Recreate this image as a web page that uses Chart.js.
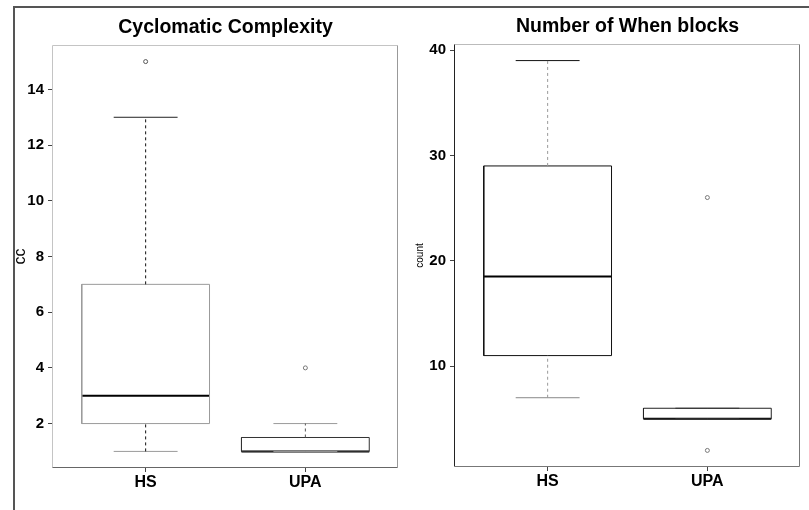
<!DOCTYPE html>
<html><head><meta charset="utf-8">
<script src="https://cdn.jsdelivr.net/npm/chart.js@4.4.1/dist/chart.umd.min.js"></script>
<style>
html,body{margin:0;padding:0;background:#fff;}
#wrap{position:relative;width:809px;height:510px;overflow:hidden;background:#fff;}
canvas{position:absolute;top:0;}
#c1{left:0;}
#c2{left:404px;}
#frame{position:absolute;left:13px;top:6px;width:796px;height:504px;border-left:2px solid #555;border-top:2px solid #555;z-index:5;pointer-events:none;}
</style></head><body>
<div id="wrap">
<canvas id="c1" width="404" height="510" style="width:404px;height:510px"></canvas>
<canvas id="c2" width="405" height="510" style="width:405px;height:510px"></canvas>
<div id="frame"></div>
</div>
<script>
// ---- data ----
const categories = ['HS', 'UPA'];

// Cyclomatic Complexity (boxplot statistics per category)
const ccLow      = [1, 1];
const ccQ1       = [2, 1];
const ccMedian   = [3, 1];
const ccQ3       = [7, 1.5];
const ccHigh     = [13, 2];
const ccOutliers = [[15], [4]];
const ccTicks    = [2, 4, 6, 8, 10, 12, 14];

// Number of When blocks
const whenLow      = [7, 5];
const whenQ1       = [11, 5];
const whenMedian   = [18.5, 5];
const whenQ3       = [29, 6];
const whenHigh     = [39, 6];
const whenOutliers = [[], [26, 2]];
const whenTicks    = [10, 20, 30, 40];

// ---- styles ----
const FONT = '"Liberation Sans", Arial, Helvetica, sans-serif';
const BOX_HALF = 0.4, CAP_HALF = 0.2;

const ccStyle = {
  box: ['#9a9a9a', '#333333'], whiskUp: ['#111111', '#555555'], whiskLo: ['#111111', '#555555'],
  capHi: ['#222222', '#9a9a9a'], capLo: ['#9a9a9a', '#9a9a9a'], out: ['#555555', '#777777'],
  frame: {top: '#c4c4c4', left: '#c4c4c4', right: '#999999', bottom: '#666666'}
};
const whenStyle = {
  box: ['#111111', '#222222'], whiskUp: ['#9a9a9a', '#9a9a9a'], whiskLo: ['#9a9a9a', '#9a9a9a'],
  capHi: ['#111111', '#333333'], capLo: ['#888888', '#333333'], out: ['#777777', '#777777'],
  frame: {top: '#bbbbbb', left: '#222222', right: '#777777', bottom: '#777777'}
};

function lineDs(points, color, width, dash) {
  return {type: 'scatter', data: points, showLine: true, borderColor: color, borderWidth: width,
    borderDash: dash || [], pointRadius: 0, pointHoverRadius: 0, fill: false, tension: 0, borderCapStyle: 'butt'};
}

function boxDatasets(low, q1, med, q3, high, outs, st) {
  const ds = [];
  categories.forEach((c, i) => {
    const x = i + 1;
    ds.push(lineDs([{x: x, y: q3[i]}, {x: x, y: high[i]}], st.whiskUp[i], 1, [3, 3]));
    ds.push(lineDs([{x: x, y: low[i]}, {x: x, y: q1[i]}], st.whiskLo[i], 1, [3, 3]));
    ds.push(lineDs([{x: x - CAP_HALF, y: high[i]}, {x: x + CAP_HALF, y: high[i]}], st.capHi[i], 1));
    ds.push(lineDs([{x: x - CAP_HALF, y: low[i]}, {x: x + CAP_HALF, y: low[i]}], st.capLo[i], 1));
    ds.push(lineDs([
      {x: x - BOX_HALF, y: q1[i]}, {x: x + BOX_HALF, y: q1[i]}, {x: x + BOX_HALF, y: q3[i]},
      {x: x - BOX_HALF, y: q3[i]}, {x: x - BOX_HALF, y: q1[i]}], st.box[i], 1));
    ds.push(lineDs([{x: x - BOX_HALF, y: med[i]}, {x: x + BOX_HALF, y: med[i]}], '#000000', 2));
    ds.push({type: 'scatter', data: outs[i].map(v => ({x: x, y: v})), showLine: false,
      pointStyle: 'circle', pointRadius: 2, borderWidth: 1, borderColor: st.out[i],
      backgroundColor: 'rgba(0,0,0,0)'});
  });
  return ds;
}

const framePlugin = {
  id: 'frame',
  afterDatasetsDraw(chart, args, opts) {
    const {ctx, chartArea: a} = chart;
    const L = Math.round(a.left) - 0.5, R = Math.round(a.right) - 0.5;
    const T = Math.round(a.top) - 0.5, B = Math.round(a.bottom) + 0.5;
    ctx.save();
    ctx.lineWidth = 1;
    const seg = (x1, y1, x2, y2, c) => { ctx.strokeStyle = c; ctx.beginPath(); ctx.moveTo(x1, y1); ctx.lineTo(x2, y2); ctx.stroke(); };
    seg(L, T, R, T, opts.top);
    seg(L, T, L, B, opts.left);
    seg(R, T, R, B, opts.right);
    seg(L, B, R, B, opts.bottom);
    ctx.restore();
  }
};

function makeChart(id, title, ytitle, ytitleSize, ytitlePad, datasets, yTicks, low, high, st, geom) {
  const span = high - low;
  return new Chart(document.getElementById(id), {
    type: 'scatter',
    data: {datasets: datasets},
    plugins: [framePlugin],
    options: {
      responsive: false, animation: false, devicePixelRatio: 1,
      layout: {padding: {left: 0, right: geom.padRight, top: 0, bottom: 0}},
      plugins: {
        legend: {display: false}, tooltip: {enabled: false},
        title: {display: true, text: title, fullSize: false, color: '#000',
          font: {family: FONT, size: 19.5, weight: 'bold'}, padding: {top: geom.titleTop, bottom: 7}},
        frame: st.frame
      },
      scales: {
        x: {
          type: 'linear', min: 0.5 - 0.08, max: 2.5 + 0.08,
          afterBuildTicks: s => { s.ticks = categories.map((c, i) => ({value: i + 1})); },
          afterFit: s => { s.height = geom.xHeight; },
          ticks: {callback: v => categories[v - 1] || '', color: '#000', padding: 1, autoSkip: false,
            maxRotation: 0, font: {family: FONT, size: 16, weight: 'bold'}},
          grid: {drawOnChartArea: false, drawTicks: true, tickLength: 5, color: '#444'},
          border: {display: false}
        },
        y: {
          type: 'linear', min: low - 0.04 * span, max: high + 0.04 * span,
          afterBuildTicks: s => { s.ticks = yTicks.map(v => ({value: v})); },
          afterFit: s => { s.width = geom.yWidth; },
          ticks: {color: '#000', padding: 4, font: {family: FONT, size: 15, weight: 'bold'}},
          grid: {drawOnChartArea: false, drawTicks: true, tickLength: 5, color: '#444'},
          border: {display: false},
          title: {display: true, text: ytitle, color: '#000', font: {family: FONT, size: ytitleSize},
            padding: {top: ytitlePad, bottom: 0}}
        }
      }
    }
  });
}

const ccAll = [].concat(ccLow, ccHigh, ...ccOutliers);
const whenAll = [].concat(whenLow, whenHigh, ...whenOutliers);

makeChart('c1', 'Cyclomatic Complexity', 'cc', 16, 11,
  boxDatasets(ccLow, ccQ1, ccMedian, ccQ3, ccHigh, ccOutliers, ccStyle),
  ccTicks, Math.min(...ccAll), Math.max(...ccAll), ccStyle,
  {padRight: 6, titleTop: 15.6, xHeight: 43, yWidth: 53});

makeChart('c2', 'Number of When blocks', 'count', 10, 10.5,
  boxDatasets(whenLow, whenQ1, whenMedian, whenQ3, whenHigh, whenOutliers, whenStyle),
  whenTicks, Math.min(...whenAll), Math.max(...whenAll), whenStyle,
  {padRight: 9, titleTop: 14.6, xHeight: 44, yWidth: 51});
</script>
</body></html>
